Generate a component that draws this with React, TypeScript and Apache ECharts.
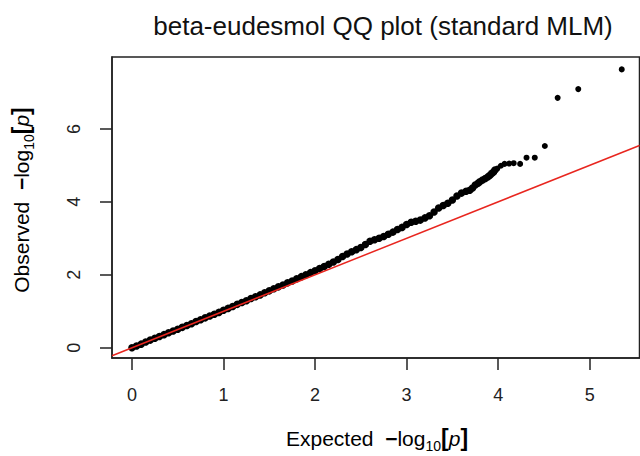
import React, { useEffect, useRef } from "react";
import * as echarts from "echarts";

// Expected -log10(p) (x) and observed -log10(p) (y)
const expectedP = [
  0.0, 0.05, 0.1, 0.15, 0.2, 0.25, 0.3, 0.35, 0.4, 0.45, 0.5, 0.55, 0.6, 0.65, 0.7, 0.75,
  0.8, 0.85, 0.9, 0.95, 1.0, 1.05, 1.1, 1.15, 1.2, 1.25, 1.3, 1.35, 1.4, 1.45, 1.5, 1.55,
  1.6, 1.65, 1.7, 1.75, 1.8, 1.85, 1.9, 1.95, 2.0, 2.05, 2.1, 2.15, 2.2, 2.25, 2.3, 2.35,
  2.4, 2.45, 2.5, 2.55, 2.6, 2.65, 2.7, 2.75, 2.8, 2.85, 2.9, 2.95, 3.0, 3.05, 3.1, 3.15,
  3.2, 3.25, 3.3, 3.35, 3.4, 3.45, 3.5, 3.55, 3.6, 3.65, 3.69, 3.72, 3.75, 3.78, 3.8, 3.83,
  3.86, 3.89, 3.91, 3.93, 3.95, 3.965, 3.99, 4.03, 4.07, 4.12, 4.17, 4.24, 4.31, 4.4, 4.51,
  4.65, 4.875, 5.35,
];
const observedP = [
  0.0, 0.05, 0.1, 0.16, 0.21, 0.26, 0.31, 0.36, 0.41, 0.46, 0.51, 0.56, 0.61, 0.66, 0.72, 0.77,
  0.82, 0.87, 0.92, 0.97, 1.03, 1.08, 1.13, 1.19, 1.24, 1.29, 1.35, 1.4, 1.45, 1.51, 1.56, 1.62,
  1.67, 1.72, 1.78, 1.83, 1.89, 1.95, 2.0, 2.06, 2.11, 2.17, 2.23, 2.29, 2.35, 2.42, 2.5, 2.57,
  2.63, 2.69, 2.75, 2.83, 2.92, 2.96, 3.0, 3.05, 3.11, 3.17, 3.24, 3.3, 3.38, 3.44, 3.47, 3.5,
  3.56, 3.62, 3.72, 3.83, 3.9, 3.96, 4.05, 4.16, 4.24, 4.29, 4.32, 4.38, 4.46, 4.51, 4.55, 4.6,
  4.64, 4.69, 4.73, 4.78, 4.82, 4.87, 4.91, 4.99, 5.04, 5.05, 5.06, 5.04, 5.21, 5.21, 5.53,
  6.85, 7.09, 7.63,
];

const xTicks = [0, 1, 2, 3, 4, 5];
const yTicks = [0, 2, 4, 6];
const xRange = [-0.218, 5.544];
const yRange = [-0.28, 7.97];
const titleText = "beta-eudesmol QQ plot (standard MLM)";
const xTitle = ["Expected  ", "\u2212", "log", "10", "[", "p", "]"];
const yTitle = ["Observed  ", "\u2212", "log", "10", "[", "p", "]"];

const FONT = "Liberation Sans, Arial, sans-serif";

function richTitle(parts: string[]) {
  return `{n|${parts[0]}}{m|${parts[1]}}{n|${parts[2]}}{s|${parts[3]}}{b|${parts[4]}}{i|${parts[5]}}{b|${parts[6]}}`;
}

const richStyles = {
  n: { fontSize: 21, fontFamily: FONT, color: "#222", lineHeight: 30, verticalAlign: "middle" },
  m: { fontSize: 21, fontFamily: FONT, fontWeight: "bold", color: "#222", lineHeight: 30, verticalAlign: "middle" },
  s: { fontSize: 14, fontFamily: FONT, color: "#222", lineHeight: 14, verticalAlign: "bottom" },
  b: { fontSize: 23, fontFamily: FONT, fontWeight: "bold", color: "#111", lineHeight: 30, verticalAlign: "middle" },
  i: { fontSize: 21, fontFamily: FONT, fontStyle: "italic", color: "#222", lineHeight: 30, verticalAlign: "middle" },
};

export default function App() {
  const ref = useRef<HTMLDivElement>(null);
  useEffect(() => {
    document.body.style.margin = "0";
    const chart = echarts.init(ref.current!, null, { renderer: "svg" });
    const points = expectedP.map((x, i) => [x, observedP[i]]);
    const axisLineStyle = { color: "#222", width: 1.5 };
    chart.setOption({
      animation: false,
      backgroundColor: "#fff",
      title: {
        text: titleText,
        left: 378,
        top: 8,
        textAlign: "center",
        textStyle: { fontSize: 26, fontWeight: "normal", fontFamily: FONT, color: "#111" },
      },
      grid: {
        left: 112,
        top: 57,
        width: 527.5,
        height: 301,
        show: true,
        borderColor: "#222",
        borderWidth: 1.5,
      },
      xAxis: {
        type: "value",
        min: xRange[0],
        max: xRange[1],
        axisLine: { show: true, onZero: false, lineStyle: axisLineStyle },
        splitLine: { show: false },
        axisTick: { show: true, length: 12, lineStyle: axisLineStyle, customValues: xTicks },
        axisLabel: { customValues: xTicks, fontSize: 18, fontFamily: FONT, color: "#222", margin: 28 },
      },
      yAxis: {
        type: "value",
        min: yRange[0],
        max: yRange[1],
        axisLine: { show: true, onZero: false, lineStyle: axisLineStyle },
        splitLine: { show: false },
        axisTick: { show: true, length: 12, lineStyle: axisLineStyle, customValues: yTicks },
        axisLabel: {
          customValues: yTicks,
          fontSize: 18,
          fontFamily: FONT,
          color: "#222",
          rotate: 90,
          align: "center",
          verticalAlign: "middle",
          margin: 38,
        },
      },
      graphic: [
        {
          type: "text",
          x: 377,
          y: 438,
          style: { text: richTitle(xTitle), rich: richStyles, align: "center", verticalAlign: "middle" },
        },
        {
          type: "text",
          x: 21,
          y: 200,
          rotation: Math.PI / 2,
          style: { text: richTitle(yTitle), rich: richStyles, align: "center", verticalAlign: "middle" },
        },
      ],
      series: [
        {
          type: "scatter",
          data: points,
          symbol: "circle",
          symbolSize: (val: number[]) => (val[0] < 3.98 ? 7.5 : 6),
          itemStyle: { color: "#000", opacity: 1 },
          z: 2,
        },
        {
          type: "line",
          data: [
            [xRange[0], xRange[0]],
            [xRange[1], xRange[1]],
          ],
          showSymbol: false,
          lineStyle: { color: "#e8261f", width: 1.5 },
          z: 3,
          clip: true,
        },
      ],
    });
    return () => chart.dispose();
  }, []);
  return <div ref={ref} style={{ width: 640, height: 456 }} />;
}
